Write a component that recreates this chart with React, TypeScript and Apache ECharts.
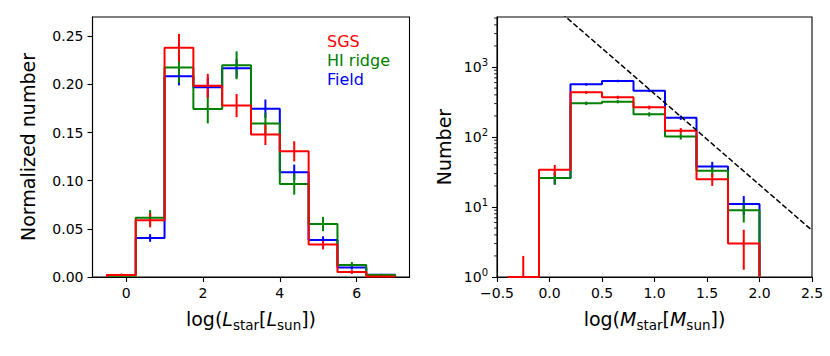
import React, { useEffect, useRef } from 'react';
import * as echarts from 'echarts';

// ---------- Left panel: luminosity distribution (normalized) ----------
const lumEdges = [-0.5, 0.25, 1.0, 1.75, 2.5, 3.25, 4.0, 4.75, 5.5, 6.25, 7.0];
const lumSGS = [0.002, 0.059, 0.238, 0.1985, 0.178, 0.148, 0.1305, 0.0337, 0.0052, 0.0006];
const lumSGSErr = [0.0015, 0.0075, 0.0145, 0.0125, 0.012, 0.011, 0.0105, 0.005, 0.002, 0.0007];
const lumHI = [0.0012, 0.0615, 0.2175, 0.1745, 0.2198, 0.1595, 0.0965, 0.055, 0.0125, 0.002];
const lumHIErr = [0.001, 0.008, 0.016, 0.015, 0.0145, 0.011, 0.011, 0.0075, 0.003, 0.001];
const lumField = [0.002, 0.0405, 0.2085, 0.197, 0.2167, 0.1748, 0.1087, 0.0383, 0.0098, 0.0023];
const lumFieldErr = [0.001, 0.004, 0.0095, 0.01, 0.0095, 0.0095, 0.008, 0.004, 0.002, 0.001];
const lumYTicks = [0, 0.05, 0.1, 0.15, 0.2, 0.25];
const lumXTicks = [0, 2, 4, 6];

// ---------- Right panel: mass distribution (counts, log) ----------
const massEdgesSGS = [-0.4, -0.1, 0.2, 0.5, 0.8, 1.1, 1.4, 1.7, 2.0];
const massSGS = [1, 34, 435, 369, 265, 123, 25, 3];
const massSGSErr = [1, 5.83, 20.86, 19.21, 16.28, 11.09, 5.0, 1.73];
const massEdges = [-0.1, 0.2, 0.5, 0.8, 1.1, 1.4, 1.7, 2.0];
const massHI = [26, 303, 320, 211, 102, 33, 9];
const massHIErr = [5.1, 17.41, 17.89, 14.53, 10.1, 5.74, 3.0];
const massField = [26, 565, 631, 459, 189, 38, 11];
const massFieldErr = [5.1, 23.77, 25.12, 21.42, 13.75, 6.16, 3.32];
const slopeX = [0.0, 2.5];
const slopeY = [8260, 4.64];
const massXTicks = [-0.5, 0, 0.5, 1.0, 1.5, 2.0, 2.5];
const massYTicks = [1, 10, 100, 1000];
const massYMinorTicks = [2, 3, 4, 5, 6, 7, 8, 9, 20, 30, 40, 50, 60, 70, 80, 90,
  200, 300, 400, 500, 600, 700, 800, 900, 2000, 3000, 4000, 5000];

const RED = '#ff0000';
const GREEN = '#008000';
const BLUE = '#0000ff';
const FONT = 'DejaVu Sans';
const TICK_FS = 14;
const NAME_FS = 19;

function stepPoints(edges: number[], vals: number[], base: number) {
  const pts: number[][] = [[edges[0], base]];
  vals.forEach((v, i) => {
    pts.push([edges[i], v]);
    pts.push([edges[i + 1], v]);
  });
  pts.push([edges[edges.length - 1], base]);
  return pts;
}

function errPoints(edges: number[], vals: number[], errs: number[], floor: number) {
  return vals.map((v, i) => [
    (edges[i] + edges[i + 1]) / 2,
    Math.max(v - errs[i], floor),
    v + errs[i],
  ]);
}

function stepSeries(name: string, data: number[][], color: string, idx: number) {
  return {
    name,
    type: 'line',
    xAxisIndex: idx,
    yAxisIndex: idx,
    data,
    symbol: 'none',
    showSymbol: false,
    clip: true,
    silent: true,
    lineStyle: { color, width: 2 },
    itemStyle: { color },
  };
}

function errSeries(name: string, data: number[][], color: string, idx: number) {
  return {
    name,
    type: 'custom',
    xAxisIndex: idx,
    yAxisIndex: idx,
    data,
    silent: true,
    encode: { x: 0, y: [1, 2] },
    renderItem: (_p: any, api: any) => {
      const a = api.coord([api.value(0), api.value(1)]);
      const b = api.coord([api.value(0), api.value(2)]);
      return {
        type: 'line',
        shape: { x1: a[0], y1: a[1], x2: b[0], y2: b[1] },
        style: { stroke: color, lineWidth: 2 },
      };
    },
  };
}

const subRich = {
  n: { fontSize: NAME_FS, fontFamily: FONT, color: '#000', lineHeight: 26 },
  i: { fontSize: NAME_FS, fontFamily: FONT, fontStyle: 'italic', color: '#000', lineHeight: 26 },
  s: { fontSize: 13.5, fontFamily: FONT, color: '#000', verticalAlign: 'bottom', lineHeight: 14 },
};

const axisCommon = {
  axisLine: { show: true, onZero: false, lineStyle: { color: '#000', width: 1.1 } },
  axisTick: { show: true, length: 5, lineStyle: { color: '#000', width: 1.1 } },
  splitLine: { show: false },
};

const option: any = {
  animation: false,
  backgroundColor: '#ffffff',
  grid: [
    { left: 92.5, top: 17, width: 317, height: 260, show: true, borderColor: '#000', borderWidth: 1.1, backgroundColor: 'transparent', outerBoundsMode: 'none' },
    { left: 497, top: 17, width: 315, height: 260, show: true, borderColor: '#000', borderWidth: 1.1, backgroundColor: 'transparent', outerBoundsMode: 'none' },
  ],
  legend: {
    orient: 'vertical',
    left: 317,
    top: 27,
    icon: 'none',
    itemWidth: 0,
    itemHeight: 0,
    itemGap: 0,
    selectedMode: false,
    textStyle: { fontFamily: FONT, fontSize: 16, lineHeight: 19 },
    data: [
      { name: 'SGS', textStyle: { color: RED } },
      { name: 'HI ridge', textStyle: { color: GREEN } },
      { name: 'Field', textStyle: { color: BLUE } },
    ],
  },
  xAxis: [
    {
      ...axisCommon,
      gridIndex: 0,
      type: 'value',
      min: -0.875,
      max: 7.375,
      axisTick: { ...axisCommon.axisTick, customValues: lumXTicks },
      axisLabel: {
        customValues: lumXTicks,
        fontFamily: FONT, fontSize: TICK_FS, color: '#000', margin: 9,
        formatter: (v: number) => String(v),
      },
      name: '{n|log(}{i|L}{s|star}{n|[}{i|L}{s|sun}{n|])}',
      nameLocation: 'middle',
      nameGap: 29,
      nameTextStyle: { fontFamily: FONT, fontSize: NAME_FS, color: '#000', rich: subRich },
    },
    {
      ...axisCommon,
      gridIndex: 1,
      type: 'value',
      min: -0.5,
      max: 2.5,
      interval: 0.5,
      axisTick: { ...axisCommon.axisTick, customValues: massXTicks },
      axisLabel: {
        customValues: massXTicks,
        fontFamily: FONT, fontSize: TICK_FS, color: '#000', margin: 9,
        formatter: (v: number) => (v < 0 ? '\u2212' + (-v).toFixed(1) : v.toFixed(1)),
      },
      name: '{n|log(}{i|M}{s|star}{n|[}{i|M}{s|sun}{n|])}',
      nameLocation: 'middle',
      nameGap: 29,
      nameTextStyle: { fontFamily: FONT, fontSize: NAME_FS, color: '#000', rich: subRich },
    },
  ],
  yAxis: [
    {
      ...axisCommon,
      gridIndex: 0,
      type: 'value',
      min: 0,
      max: 0.27,
      axisTick: { ...axisCommon.axisTick, customValues: lumYTicks },
      axisLabel: {
        customValues: lumYTicks,
        fontFamily: FONT, fontSize: TICK_FS, color: '#000', margin: 9,
        formatter: (v: number) => v.toFixed(2),
      },
      name: 'Normalized number',
      nameLocation: 'middle',
      nameRotate: 90,
      nameGap: 55,
      nameTextStyle: { fontFamily: FONT, fontSize: NAME_FS, color: '#000' },
    },
    {
      ...axisCommon,
      gridIndex: 1,
      type: 'log',
      logBase: 10,
      min: 1,
      max: 5180,
      axisTick: { ...axisCommon.axisTick, customValues: massYTicks },
      axisLabel: {
        customValues: massYTicks,
        fontFamily: FONT, fontSize: TICK_FS, color: '#000', margin: 9,
        formatter: (v: number) => '{b|10}{p|' + Math.round(Math.log10(v)) + '}',
        rich: {
          b: { fontFamily: FONT, fontSize: TICK_FS, color: '#000', lineHeight: 20 },
          p: { fontFamily: FONT, fontSize: 10, color: '#000', verticalAlign: 'top', lineHeight: 11 },
        },
      },
      name: 'Number',
      nameLocation: 'middle',
      nameRotate: 90,
      nameGap: 44,
      nameTextStyle: { fontFamily: FONT, fontSize: NAME_FS, color: '#000' },
    },
  ],
  series: [
    stepSeries('Field', stepPoints(lumEdges, lumField, 0), BLUE, 0),
    errSeries('Field', errPoints(lumEdges, lumField, lumFieldErr, 0), BLUE, 0),
    stepSeries('HI ridge', stepPoints(lumEdges, lumHI, 0), GREEN, 0),
    errSeries('HI ridge', errPoints(lumEdges, lumHI, lumHIErr, 0), GREEN, 0),
    stepSeries('SGS', stepPoints(lumEdges, lumSGS, 0), RED, 0),
    errSeries('SGS', errPoints(lumEdges, lumSGS, lumSGSErr, 0), RED, 0),

    stepSeries('Field', stepPoints(massEdges, massField, 1), BLUE, 1),
    errSeries('Field', errPoints(massEdges, massField, massFieldErr, 1), BLUE, 1),
    stepSeries('HI ridge', stepPoints(massEdges, massHI, 1), GREEN, 1),
    errSeries('HI ridge', errPoints(massEdges, massHI, massHIErr, 1), GREEN, 1),
    stepSeries('SGS', stepPoints(massEdgesSGS, massSGS, 1), RED, 1),
    errSeries('SGS', errPoints(massEdgesSGS, massSGS, massSGSErr, 1), RED, 1),
    {
      name: 'slope',
      type: 'line',
      xAxisIndex: 1,
      yAxisIndex: 1,
      data: slopeX.map((x, i) => [x, slopeY[i]]),
      symbol: 'none',
      clip: true,
      silent: true,
      lineStyle: { color: '#000', width: 1.5, type: [5.5, 2.4] },
    },
    {
      name: 'minorTicks',
      type: 'custom',
      xAxisIndex: 1,
      yAxisIndex: 1,
      silent: true,
      clip: false,
      data: massYMinorTicks.map((v) => [-0.5, v]),
      renderItem: (_p: any, api: any) => {
        const p = api.coord([api.value(0), api.value(1)]);
        return {
          type: 'line',
          shape: { x1: p[0] - 2.8, y1: p[1], x2: p[0], y2: p[1] },
          style: { stroke: '#000', lineWidth: 0.9 },
        };
      },
    },
  ],
};

export default function App() {
  const ref = useRef<HTMLDivElement>(null);
  useEffect(() => {
    const chart = echarts.init(ref.current as HTMLDivElement, null, { renderer: 'svg' });
    chart.setOption(option);
    return () => chart.dispose();
  }, []);
  return (
    <div
      ref={ref}
      style={{ position: 'absolute', left: 0, top: 0, width: 830, height: 356, background: '#fff' }}
    />
  );
}
